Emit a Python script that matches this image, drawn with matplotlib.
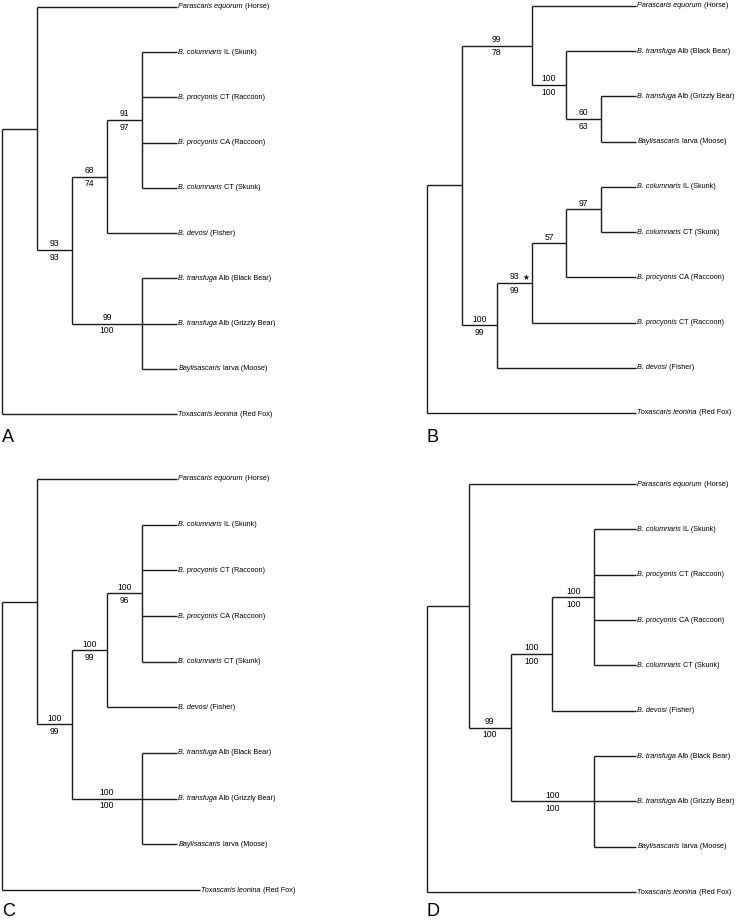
import matplotlib.pyplot as plt

plt.rcParams['font.family'] = ['Liberation Sans Narrow', 'Liberation Sans', 'DejaVu Sans']

# taxon names: italic part + plain part
name_it = {"PE": "Parascaris equorum", "CIL": "B. columnaris", "PCT": "B. procyonis",
           "PCA": "B. procyonis", "CCT": "B. columnaris", "DEV": "B. devosi",
           "BB": "B. transfuga", "GB": "B. transfuga", "BL": "Baylisascaris",
           "TL": "Toxascaris leonina"}
name_rest = {"PE": " (Horse)", "CIL": " IL (Skunk)", "PCT": " CT (Raccoon)",
             "PCA": " CA (Raccoon)", "CCT": " CT (Skunk)", "DEV": " (Fisher)",
             "BB": " Alb (Black Bear)", "GB": " Alb (Grizzly Bear)", "BL": " larva (Moose)",
             "TL": " (Red Fox)"}


def N(*kids, s=(None, None), star=False):
    return {"kids": list(kids), "s": s, "star": star}


# support values (top / bottom)
tree_a = N(N("PE", N(N(N("CIL", "PCT", "PCA", "CCT", s=("91", "97")), "DEV", s=("68", "74")),
                     N("BB", "GB", "BL", s=("99", "100")), s=("93", "93"))), "TL")
tree_b = N(N(N("PE", N("BB", N("GB", "BL", s=("60", "63")), s=("100", "100")), s=("99", "78")),
             N(N(N(N("CIL", "CCT", s=("97", None)), "PCA", s=("57", None)), "PCT",
                 s=("93", "99"), star=True), "DEV", s=("100", "99"))), "TL")
tree_c = N(N("PE", N(N(N("CIL", "PCT", "PCA", "CCT", s=("100", "96")), "DEV", s=("100", "99")),
                     N("BB", "GB", "BL", s=("100", "100")), s=("100", "99"))), "TL")
tree_d = N(N("PE", N(N(N("CIL", "PCT", "PCA", "CCT", s=("100", "100")), "DEV", s=("100", "100")),
                     N("BB", "GB", "BL", s=("100", "100")), s=("99", "100"))), "TL")

trees = [tree_a, tree_b, tree_c, tree_d]
letters = ["A", "B", "C", "D"]
# pixel boxes: root x, leaf x, first leaf y, last leaf y
boxes = [(2, 177, 7, 414), (427, 636, 6, 413), (2, 177, 479, 890), (427, 636, 484, 892)]
outgroup_extra = [0, 0, 0.66, 0]
letter_pos = [(2, 437), (427, 437), (2, 911), (427, 911)]

W, H = 738, 923
LC = '#1a1a1a'
LW = 1.0
FS = 5.2
FSN = 6.2


def place(node, counter):
    if isinstance(node, str):
        y = counter[0]
        counter[0] += 1
        return 0, y
    pos = [place(k, counter) for k in node["kids"]]
    node["pos"] = pos
    node["h"] = 1 + max(p[0] for p in pos)
    node["y"] = (pos[0][1] + pos[-1][1]) / 2
    return node["h"], node["y"]


def draw(ax, node, top, extra):
    x = top - node["h"]
    ys = [p[1] for p in node["pos"]]
    ax.plot([x, x], [ys[0], ys[-1]], color=LC, lw=LW, clip_on=False, solid_capstyle='butt')
    for k, (h, y) in zip(node["kids"], node["pos"]):
        xk = top - h
        if isinstance(k, str):
            if k == "TL":
                xk += extra
            ax.plot([x, xk], [y, y], color=LC, lw=LW, clip_on=False, solid_capstyle='butt')
            t1 = ax.annotate(name_it[k], (xk, y), xytext=(1.0, 0), textcoords='offset points',
                             va='center', ha='left', style='italic', fontsize=FS,
                             annotation_clip=False)
            ax.annotate(name_rest[k], xy=(1, 0.5), xycoords=t1, va='center', ha='left',
                        fontsize=FS)
        else:
            ax.plot([x, xk], [y, y], color=LC, lw=LW, clip_on=False, solid_capstyle='butt')
            xm = (x + xk) / 2
            top_s, bot_s = k["s"]
            if top_s:
                ax.annotate(top_s, (xm, y), xytext=(0, 1.2), textcoords='offset points',
                            ha='center', va='bottom', fontsize=FSN, annotation_clip=False)
            if bot_s:
                ax.annotate(bot_s, (xm, y), xytext=(0, -2.0), textcoords='offset points',
                            ha='center', va='top', fontsize=FSN, annotation_clip=False)
            if k["star"]:
                ax.annotate("\u2605", (xk, y), xytext=(-3.8, 4.2), textcoords='offset points',
                            ha='center', va='center', fontsize=5.5, family='DejaVu Sans',
                            annotation_clip=False)
            draw(ax, k, top, extra)


fig = plt.figure(figsize=(W / 100, H / 100), dpi=100)

for tree, letter, box, extra, lp in zip(trees, letters, boxes, outgroup_extra, letter_pos):
    x0, x1, y0, y1 = box
    ax = fig.add_axes([x0 / W, 1 - y1 / H, (x1 - x0) / W, (y1 - y0) / H])
    counter = [0]
    place(tree, counter)
    n = counter[0]
    ax.set_xlim(0, tree["h"])
    ax.set_ylim(n - 1, 0)
    ax.set_axis_off()
    draw(ax, tree, tree["h"], extra)
    fig.text(lp[0] / W, 1 - lp[1] / H, letter, ha='left', va='center', fontsize=13,
             family=['Liberation Sans', 'DejaVu Sans'])

fig.savefig('out.png', dpi=100)
